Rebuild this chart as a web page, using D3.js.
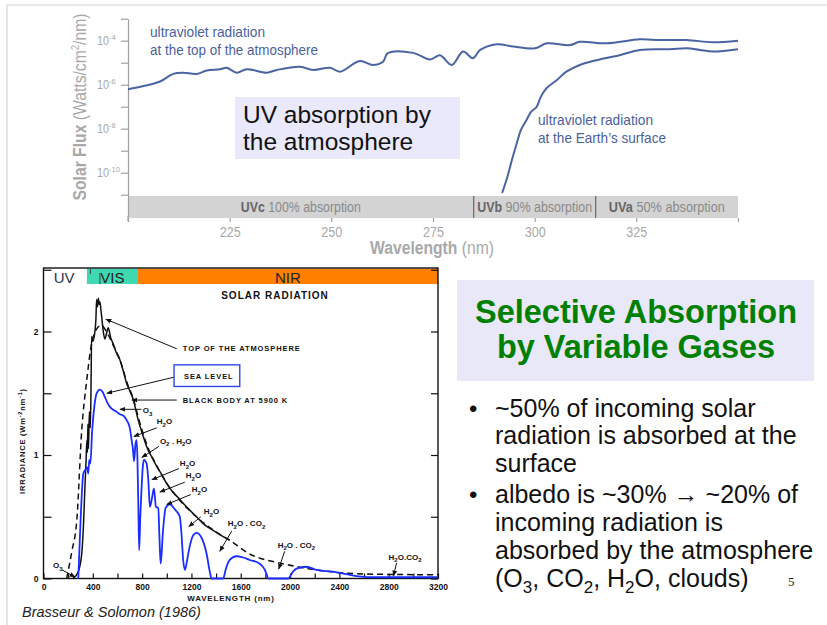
<!DOCTYPE html>
<html><head><meta charset="utf-8">
<script src="https://cdn.jsdelivr.net/npm/d3@7"></script>
<style>body{margin:0;background:#fff}svg{display:block}</style>
</head><body>
<svg id="c" width="827" height="625"></svg>
<script>
// ---------- DATA ----------
// Top chart: UV solar flux (Watts/cm2/nm) vs wavelength (nm)
const uvTopNm = [200,203.8,207.9,211.1,213.5,216.9,219.4,222.6,224.3,226.7,229.2,234.1,236.6,242.3,245.5,249.7,252.1,257,260.2,262.7,263.9,270.1,274.3,276.7,279.6,282.4,284.8,286.6,290.7,294.7,300.1,303,308.7,311.1,317.7,325.9,330.8,337.4,343.8,350];
const uvTopFlux = [6.2e-7,8.7e-7,1.4e-6,3.1e-6,3.5e-6,3.1e-6,4.4e-6,5.0e-6,5.9e-6,3.5e-6,5.0e-6,3.5e-6,4.7e-6,6.6e-6,4.7e-6,5.9e-6,3.9e-6,1.2e-5,7.9e-6,1.1e-5,2.7e-5,2.8e-5,1.4e-5,2.2e-5,7.9e-6,3.2e-5,1.6e-5,3.8e-5,6.9e-5,5.4e-5,4.5e-5,7.6e-5,6.3e-5,8.9e-5,7.6e-5,1.15e-4,1.07e-4,1.07e-4,8.5e-5,1.0e-4];
const uvSurfNm = [292,293.3,294.4,295.6,296.6,298,299.1,300.5,301.5,302.9,305.4,307.8,311.1,315.2,320.9,325.9,333.3,337.4,340.6,343.8,350];
const uvSurfFlux = [1.2e-11,6.6e-11,3.8e-10,2.2e-9,8.7e-9,2.5e-8,5.8e-8,1.0e-7,2.8e-7,6.9e-7,1.6e-6,3.9e-6,7.9e-6,1.3e-5,2.2e-5,3.8e-5,4.1e-5,4.5e-5,3.8e-5,3.2e-5,4.1e-5];
const uvBands = ["UVc","UVb","UVa"];
const uvBandText = ["100% absorption","90% absorption","50% absorption"];
const uvBandFrom = [200,285,315];
const uvBandTo = [285,315,350];
const uvXTicks = [200,225,250,275,300,325,350];
const uvYTickExp = [-3,-4,-5,-6,-7,-8,-9,-10,-11];
const uvYLabelExp = [-4,-6,-8,-10];

// Bottom chart: solar irradiance (W m-2 nm-1) vs wavelength (nm)
const bbNm  = [188,230,270,310,350,390,430,470,510,560,620,680,730,770,840,920,1000,1100,1240,1380,1510,1670,1940,2210,2620,3200];
const bbVal = [0,0.22,0.47,1.2,1.6,1.9,2.02,2.05,2.0,1.9,1.77,1.58,1.45,1.3,1.08,0.91,0.77,0.64,0.5,0.39,0.31,0.2,0.12,0.07,0.036,0.03];
const toaNm  = [240,280,310,325,336,345,352,356,360,365,372,380,386,390,400,417,425,431,438,445,452,458,465,472,485,498,510,525,545,566,590,620,650,674,700,728,750,769,800,836,880,917,960,998,1050,1106,1170,1241,1300,1376,1440,1511];
const toaVal = [0,0.05,0.2,0.45,0.74,0.95,1.12,1.02,1.25,1.05,1.35,1.22,1.6,1.96,1.92,2.0,2.1,2.26,2.2,2.27,2.22,2.24,2.18,2.12,2.0,1.94,1.98,2.03,1.95,1.9,1.83,1.77,1.67,1.58,1.52,1.45,1.36,1.28,1.18,1.07,0.98,0.91,0.84,0.77,0.7,0.64,0.57,0.5,0.44,0.39,0.35,0.31];
const slNm  = [282,300,323,340,355,363,371,380,395,412,431,458,480,498,520,539,560,593,620,647,670,687,700,715,725,735,745,755,762,769,776,785,796,805,815,836,850,863,880,896,912,931,940,950,958,966,980,990,1025,1066,1090,1106,1120,1133,1147,1160,1174,1214,1241,1282,1323,1350,1363,1457,1480,1511,1565,1620,1673,1754,1790,1808,1822,1984,2020,2052,2133,2213,2348,2457,2538,2700,3200];
const slVal = [0,0.45,0.85,0.88,0.9,0.85,0.96,0.93,1.2,1.39,1.5,1.53,1.51,1.47,1.42,1.39,1.37,1.35,1.33,1.32,1.29,1.26,1.22,1.12,1.05,0.95,1.08,1.12,0.97,0.6,0.23,0.5,0.74,0.9,0.96,0.93,0.8,0.58,0.65,0.73,0.58,0.57,0.35,0.12,0.2,0.34,0.5,0.57,0.6,0.56,0.53,0.5,0.35,0.15,0.07,0.12,0.2,0.35,0.37,0.33,0.2,0.05,0,0,0.08,0.15,0.18,0.17,0.15,0.12,0.08,0.04,0,0,0.05,0.08,0.095,0.07,0.055,0.035,0.02,0.01,0.01];
const spXTicks = d3.range(0,3201,200);
const spXLabels = [0,400,800,1200,1600,2000,2400,2800,3200];
const spYTicks = [0,0.5,1,1.5,2,2.5];
const spYLabels = [0,1,2];
const bandNames = ["UV","VIS","NIR"];
const bandFrom = [0,352,766];
const bandTo = [352,766,3200];
const bandColors = ["#ffffff","#3fd8b0","#ff8000"];
// annotations: text, label [nm,val], arrow from [nm,val], arrow to [nm,val]
const annText = ["O3","H2O","O2 . H2O","H2O","H2O","H2O","H2O","H2O . CO2","H2O . CO2","H2O.CO2","O3"];
const annLabel = [[806,1.34],[919,1.25],[944,1.09],[1106,0.91],[1154,0.81],[1203,0.70],[1300,0.52],[1495,0.425],[1900,0.247],[2799,0.15],[77,0.085]];
const annFrom = [[794,1.37],[919,1.22],[936,1.07],[1098,0.89],[1146,0.78],[1195,0.68],[1276,0.50],[1527,0.385],[1956,0.22],[2864,0.126],[150,0.07]];
const annTo = [[620,1.37],[733,1.15],[798,0.98],[879,0.80],[944,0.70],[1000,0.60],[1179,0.42],[1430,0.22],[1908,0.077],[2839,0.02],[255,0.012]];

// ---------- DRAW ----------
const svg = d3.select("#c");
const sans = "'Liberation Sans',Arial,sans-serif";
function squeeze(t,len){ return t.attr("textLength",len).attr("lengthAdjust","spacingAndGlyphs"); }

svg.append("path").attr("d","M7,625V5H827").attr("fill","none").attr("stroke","#d4d4d4").attr("stroke-width",1.2);

// ===== Top chart =====
const xT = d3.scaleLinear().domain([200,350]).range([128,738]);
const yT = d3.scaleLog().domain([1e-12,1e-3]).range([216.7,18.7]);
const gT = svg.append("g");

gT.selectAll("rect.band").data(uvBands).join("rect")
  .attr("x",(d,i)=>xT(uvBandFrom[i])).attr("width",(d,i)=>xT(uvBandTo[i])-xT(uvBandFrom[i]))
  .attr("y",196).attr("height",22).attr("fill","#d3d3d3");
gT.selectAll("line.div").data(uvBandFrom.slice(1)).join("line")
  .attr("x1",d=>xT(d)).attr("x2",d=>xT(d)).attr("y1",196).attr("y2",218)
  .attr("stroke","#6e6e6e").attr("stroke-width",1.3);
const bandLen = [120,115,116];
const bt = gT.selectAll("text.band").data(uvBands).join("text")
  .attr("x",(d,i)=>(xT(uvBandFrom[i])+xT(uvBandTo[i]))/2).attr("y",212)
  .attr("text-anchor","middle").attr("font-family",sans).attr("font-size",14)
  .attr("textLength",(d,i)=>bandLen[i]).attr("lengthAdjust","spacingAndGlyphs");
bt.append("tspan").attr("font-weight","bold").attr("fill","#666").text(d=>d);
bt.append("tspan").attr("fill","#8a8a8a").text((d,i)=>" "+uvBandText[i]);

// y axis
const yAx = gT.append("g").attr("transform","translate(128,0)")
  .call(d3.axisLeft(yT).tickValues(uvYTickExp.map(e=>Math.pow(10,e))).tickSize(7).tickSizeOuter(0).tickFormat(""));
yAx.selectAll("path,line").attr("stroke","#a0a0a0").attr("stroke-width",1.2);
gT.append("line").attr("x1",128).attr("x2",128).attr("y1",216).attr("y2",221).attr("stroke","#a0a0a0").attr("stroke-width",1.2);
const yl = gT.selectAll("text.ylab").data(uvYLabelExp).join("text")
  .attr("x",97).attr("y",d=>yT(Math.pow(10,d))+4.5)
  .attr("font-family",sans).attr("font-size",12.5).attr("fill","#a8a8a8");
yl.append("tspan").attr("textLength",12).attr("lengthAdjust","spacingAndGlyphs").text("10");
yl.append("tspan").attr("font-size",7.5).attr("dy",-5.5).text(d=>"-"+(-d));

// x axis
const xAx = gT.append("g").attr("transform","translate(0,218)")
  .call(d3.axisBottom(xT).tickValues(uvXTicks).tickSize(4).tickPadding(5)
    .tickFormat(d=>(d===200||d===350)?"":d));
xAx.select(".domain").remove();
xAx.selectAll("line").attr("stroke","#a0a0a0").attr("stroke-width",1.2);
xAx.selectAll("text").attr("font-family",sans).attr("font-size",14).attr("fill","#a8a8a8")
  .each(function(){ if(this.textContent) d3.select(this).attr("textLength",21).attr("lengthAdjust","spacingAndGlyphs"); });

// axis titles
const xt = gT.append("text").attr("x",432).attr("y",254).attr("text-anchor","middle")
  .attr("font-family",sans).attr("font-size",18).attr("fill","#a8a8a8");
squeeze(xt,124);
xt.append("tspan").attr("font-weight","bold").text("Wavelength");
xt.append("tspan").text(" (nm)");
const yt = gT.append("text").attr("transform","translate(86,107) rotate(-90)").attr("text-anchor","middle")
  .attr("font-family",sans).attr("font-size",18).attr("fill","#a8a8a8");
squeeze(yt,187);
yt.append("tspan").attr("font-weight","bold").text("Solar Flux");
yt.append("tspan").text(" (Watts/cm");
yt.append("tspan").attr("font-size",11).attr("dy",-7).text("2");
yt.append("tspan").attr("dy",7).text("/nm)");

// lines
const lineT = d3.line().x(d=>xT(d[0])).y(d=>yT(d[1])).curve(d3.curveCatmullRom);
gT.append("path").datum(uvTopNm.map((n,i)=>[n,uvTopFlux[i]])).attr("d",lineT)
  .attr("fill","none").attr("stroke","#4a63a3").attr("stroke-width",2);
gT.append("path").datum(uvSurfNm.map((n,i)=>[n,uvSurfFlux[i]])).attr("d",lineT)
  .attr("fill","none").attr("stroke","#4a63a3").attr("stroke-width",2);

// annotations
const blueTxt = "#4a5f9c";
[["ultraviolet radiation",150,37,115],["at the top of the atmosphere",150,55,168],
 ["ultraviolet radiation",538,125,115],["at the Earth\u2019s surface",538,143,128]].forEach(a=>{
  squeeze(gT.append("text").attr("x",a[1]).attr("y",a[2]).attr("font-family",sans).attr("font-size",15)
    .attr("fill",blueTxt).text(a[0]),a[3]);
});
gT.append("rect").attr("x",235).attr("y",97).attr("width",225).attr("height",62).attr("fill","#e9e9fb");
gT.append("text").attr("x",243).attr("y",123).attr("font-family",sans).attr("font-size",24.5).attr("fill","#111").text("UV absorption by");
gT.append("text").attr("x",243).attr("y",150).attr("font-family",sans).attr("font-size",24.5).attr("fill","#111").text("the atmosphere");

// ===== Bottom chart =====
const xB = d3.scaleLinear().domain([0,3200]).range([43.5,438]);
const yB = d3.scaleLinear().domain([0,2.52]).range([578.5,267.3]);
const gB = svg.append("g");

gB.selectAll("rect.sb").data(bandNames).join("rect")
  .attr("x",(d,i)=>xB(bandFrom[i])).attr("width",(d,i)=>xB(bandTo[i])-xB(bandFrom[i]))
  .attr("y",268.5).attr("height",15.5).attr("fill",(d,i)=>bandColors[i]);
gB.selectAll("text.sb").data(bandNames).join("text")
  .attr("x",(d,i)=>(xB(bandFrom[i])+xB(bandTo[i]))/2+(i===0?-1:0)).attr("y",283)
  .attr("text-anchor","middle").attr("font-family",sans).attr("font-size",15)
  .attr("fill",(d,i)=>i===0?"#2b3350":"#222").text(d=>d);
gB.append("line").attr("x1",xB(380)).attr("x2",xB(380)).attr("y1",269).attr("y2",274).attr("stroke","#444");
gB.append("line").attr("x1",xB(458)).attr("x2",xB(458)).attr("y1",273).attr("y2",284).attr("stroke","#444");

gB.append("rect").attr("x",43.5).attr("y",268).attr("width",394.5).attr("height",310.5)
  .attr("fill","none").attr("stroke","#111").attr("stroke-width",1.4);

const xbAx = gB.append("g").attr("transform","translate(0,578.5)")
  .call(d3.axisBottom(xB).tickValues(spXTicks).tickSize(-5).tickSizeOuter(0).tickPadding(5)
    .tickFormat(d=>spXLabels.includes(d)?d:""));
const ylAx = gB.append("g").attr("transform","translate(43.5,0)")
  .call(d3.axisLeft(yB).tickValues(spYTicks).tickSize(-8).tickSizeOuter(0).tickPadding(5)
    .tickFormat(d=>spYLabels.includes(d)?d:""));
const yrAx = gB.append("g").attr("transform","translate(438,0)")
  .call(d3.axisRight(yB).tickValues(spYTicks).tickSize(-7).tickSizeOuter(0).tickFormat(""));
[xbAx,ylAx,yrAx].forEach(a=>{
  a.select(".domain").remove();
  a.selectAll("line").attr("stroke","#111").attr("stroke-width",1.2);
  a.selectAll("text").attr("font-family",sans).attr("font-weight","bold").attr("font-size",8.5).attr("fill","#111");
});

gB.append("text").attr("x",231).attr("y",601).attr("text-anchor","middle").attr("font-family",sans)
  .attr("font-weight","bold").attr("font-size",8).attr("letter-spacing",0.8).attr("fill","#111").text("WAVELENGTH (nm)");
const yb = gB.append("text").attr("transform","translate(25,441) rotate(-90)").attr("text-anchor","middle")
  .attr("font-family",sans).attr("font-weight","bold").attr("font-size",7.5).attr("letter-spacing",0.8).attr("fill","#111");
yb.append("tspan").text("IRRADIANCE  (Wm");
yb.append("tspan").attr("font-size",5.5).attr("dy",-3).text("-2");
yb.append("tspan").attr("dy",3).text("nm");
yb.append("tspan").attr("font-size",5.5).attr("dy",-3).text("-1");
yb.append("tspan").attr("dy",3).text(")");
gB.append("text").attr("x",275).attr("y",299).attr("text-anchor","middle").attr("font-family",sans)
  .attr("font-weight","bold").attr("font-size",10).attr("letter-spacing",1).attr("fill","#111").text("SOLAR RADIATION");

const lineB = d3.line().x(d=>xB(d[0])).y(d=>yB(d[1])).curve(d3.curveMonotoneX);
gB.append("path").datum(bbNm.map((n,i)=>[n,bbVal[i]])).attr("d",lineB)
  .attr("fill","none").attr("stroke","#111").attr("stroke-width",1.5).attr("stroke-dasharray","6,4");
gB.append("path").datum(toaNm.map((n,i)=>[n,toaVal[i]])).attr("d",lineB)
  .attr("fill","none").attr("stroke","#111").attr("stroke-width",1.5);
gB.append("path").datum(slNm.map((n,i)=>[n,slVal[i]])).attr("d",lineB)
  .attr("fill","none").attr("stroke","#1a2dff").attr("stroke-width",1.8);

svg.append("defs").append("marker").attr("id","ah").attr("viewBox","0 0 10 10").attr("refX",9).attr("refY",5)
  .attr("markerWidth",6).attr("markerHeight",6).attr("orient","auto-start-reverse")
  .append("path").attr("d","M0,1L10,5L0,9Z").attr("fill","#111");
function arrow(f,t){
  gB.append("line").attr("x1",xB(f[0])).attr("y1",yB(f[1])).attr("x2",xB(t[0])).attr("y2",yB(t[1]))
    .attr("stroke","#111").attr("stroke-width",1).attr("marker-end","url(#ah)");
}
function chem(sel,str,subSize,shift){
  let prevDigit=false;
  for(const ch of str){
    const isD=/[0-9]/.test(ch);
    const t=sel.append("tspan").text(ch);
    if(isD&&!prevDigit){t.attr("dy",shift).attr("font-size",subSize);}
    else if(isD){t.attr("font-size",subSize);}
    else if(!isD&&prevDigit){t.attr("dy",-shift);}
    prevDigit=isD;
  }
}
arrow([1081,1.86],[506,2.10]);
gB.append("text").attr("x",xB(1130)).attr("y",yB(1.84)).attr("font-family",sans).attr("font-weight","bold")
  .attr("font-size",7.5).attr("letter-spacing",0.9).attr("fill","#111").text("TOP OF THE ATMOSPHERE");
arrow([1057,1.63],[514,1.50]);
gB.append("rect").attr("x",xB(1059)).attr("y",yB(1.73)).attr("width",xB(1592)-xB(1059)).attr("height",yB(1.555)-yB(1.73))
  .attr("fill","#fff").attr("stroke","#3344ee").attr("stroke-width",1.4);
gB.append("text").attr("x",xB(1140)).attr("y",yB(1.615)).attr("font-family",sans).attr("font-weight","bold")
  .attr("font-size",7.5).attr("letter-spacing",0.9).attr("fill","#111").text("SEA LEVEL");
arrow([1081,1.445],[717,1.445]);
gB.append("text").attr("x",xB(1130)).attr("y",yB(1.42)).attr("font-family",sans).attr("font-weight","bold")
  .attr("font-size",7.5).attr("letter-spacing",0.9).attr("fill","#111").text("BLACK BODY AT 5900 K");
annText.forEach((s,i)=>{
  arrow(annFrom[i],annTo[i]);
  const t = gB.append("text").attr("x",xB(annLabel[i][0])).attr("y",yB(annLabel[i][1]))
    .attr("font-family",sans).attr("font-weight","bold").attr("font-size",8).attr("fill","#111");
  chem(t,s,6,2.5);
});

// ===== Right panel =====
svg.append("rect").attr("x",457).attr("y",280).attr("width",357).attr("height",101).attr("fill","#e8e8f9");
svg.append("text").attr("x",636).attr("y",323).attr("text-anchor","middle").attr("font-family",sans)
  .attr("font-weight","bold").attr("font-size",32.5).attr("fill","#008000").text("Selective Absorption");
svg.append("text").attr("x",636).attr("y",358).attr("text-anchor","middle").attr("font-family",sans)
  .attr("font-weight","bold").attr("font-size",32.5).attr("fill","#008000").text("by Variable Gases");
const bullets = [["~50% of incoming solar",417,true],["radiation is absorbed at the",443.5,false],["surface",471.5,false],
  ["albedo is ~30% \u2192 ~20% of",503,true],["incoming radiation is",531,false],["absorbed by the atmosphere",558.5,false]];
bullets.forEach(b=>{
  if(b[2]) svg.append("text").attr("x",469).attr("y",b[1]).attr("font-family",sans).attr("font-size",24).attr("fill","#111").text("\u2022");
  svg.append("text").attr("x",495).attr("y",b[1]).attr("font-family",sans).attr("font-size",25).attr("fill","#111").text(b[0]);
});
const last = svg.append("text").attr("x",495).attr("y",586.5).attr("font-family",sans).attr("font-size",25).attr("fill","#111");
chem(last,"(O3, CO2, H2O, clouds)",17,6);
svg.append("text").attr("x",788).attr("y",586).attr("font-family","'Liberation Serif',serif").attr("font-size",13).attr("fill","#222").text("5");

svg.append("text").attr("x",22).attr("y",617).attr("font-family",sans).attr("font-style","italic")
  .attr("font-size",14.5).attr("fill","#222").text("Brasseur & Solomon (1986)");
</script>
</body></html>
